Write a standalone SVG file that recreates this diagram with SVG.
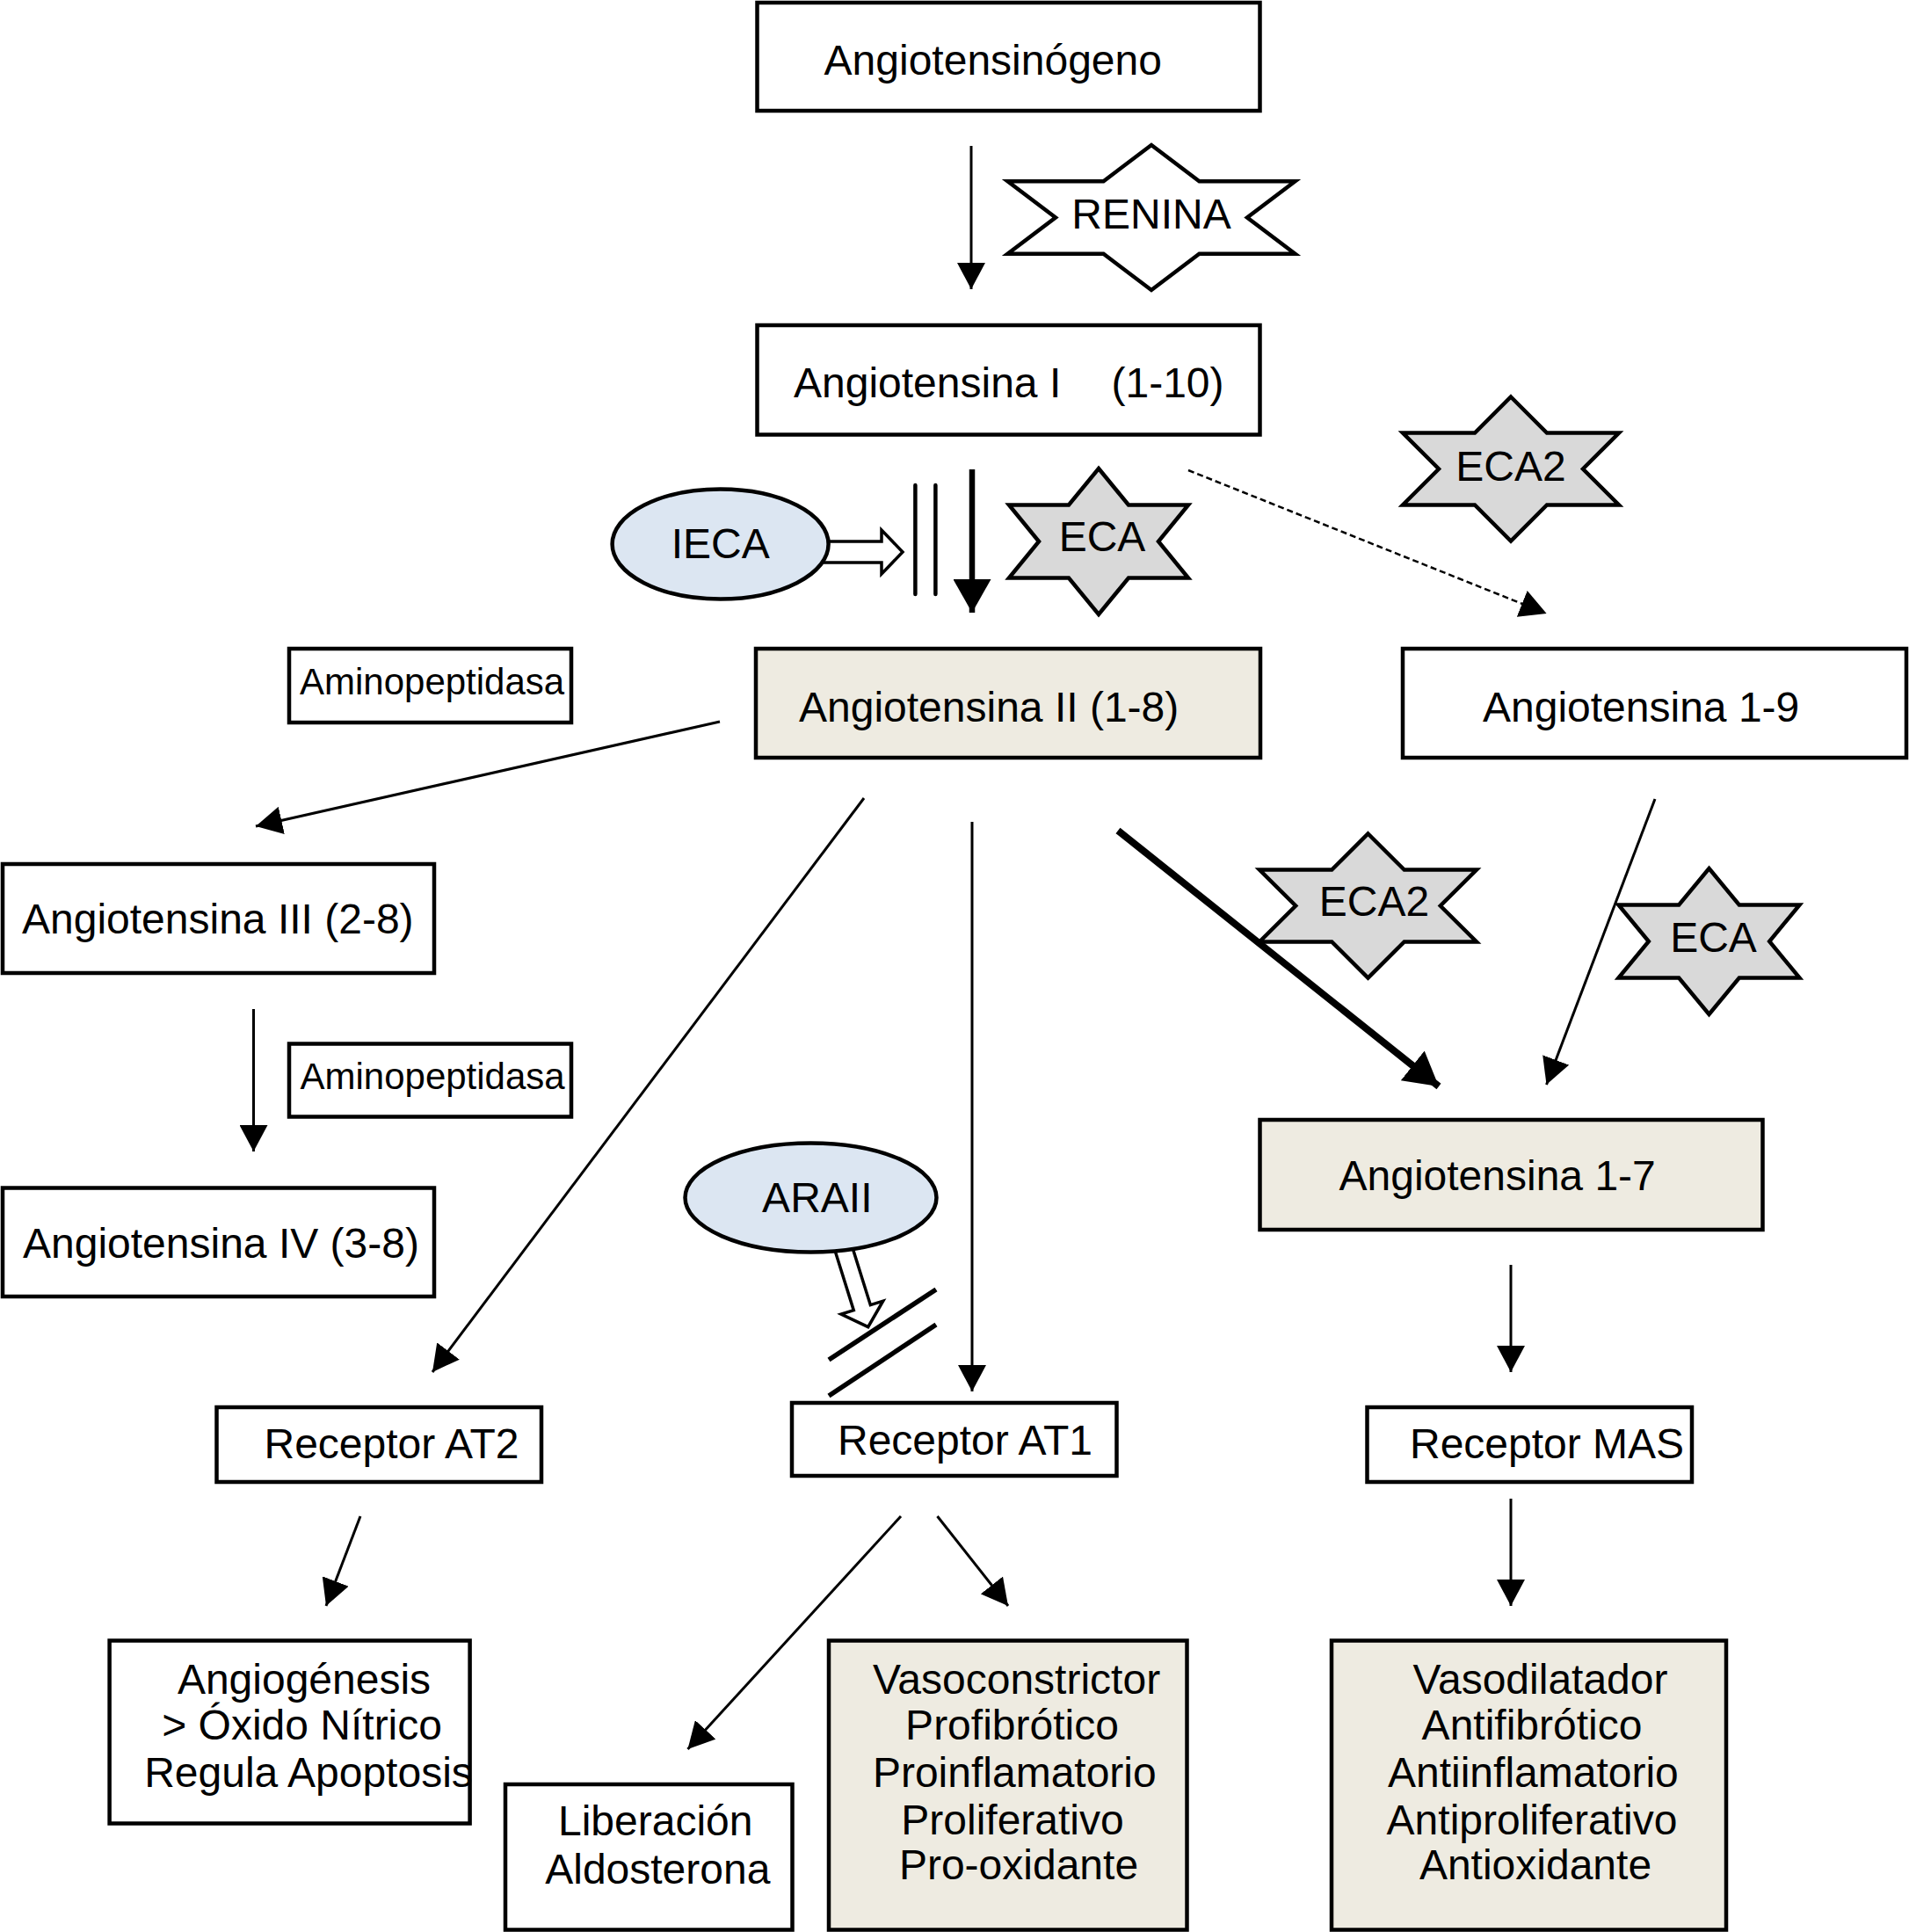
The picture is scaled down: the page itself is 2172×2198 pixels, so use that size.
<svg xmlns="http://www.w3.org/2000/svg" width="2172" height="2198" viewBox="0 0 2172 2198">
<style>
.box{fill:#ffffff;stroke:#000;stroke-width:4.5}
.beige{fill:#EEEBE1}
.star{fill:#D9D9D9;stroke:#000;stroke-width:4.5;stroke-linejoin:miter}
.white{fill:#ffffff}
.ell{fill:#DCE6F2;stroke:#000;stroke-width:4.5}
.t{font-family:"Liberation Sans",Arial,Helvetica,sans-serif;font-size:48px;fill:#000}
.ts{font-family:"Liberation Sans",Arial,Helvetica,sans-serif;font-size:42px;fill:#000}
.m{text-anchor:middle}
.ln{stroke:#000;stroke-width:3;fill:none}
.thick{stroke:#000;stroke-width:6.5;fill:none}
.thick2{stroke:#000;stroke-width:8;fill:none}
.dash{stroke:#000;stroke-width:2.5;fill:none;stroke-dasharray:7 4}
.bar{stroke:#000;stroke-width:4.5;stroke-linecap:round;fill:none}
.bar2{stroke:#000;stroke-width:5.5;fill:none}
.hollow{fill:#fff;stroke:#000;stroke-width:3.5;stroke-linejoin:miter}
</style>
<defs>
<marker id="ah" markerUnits="userSpaceOnUse" viewBox="0 0 30 32" markerWidth="30" markerHeight="32" refX="30" refY="16" orient="auto">
<path d="M0,0 L30,16 L0,32 z" fill="#000"/>
</marker>
<marker id="ahT" markerUnits="userSpaceOnUse" viewBox="0 0 38 43" markerWidth="38" markerHeight="43" refX="38" refY="21.5" orient="auto">
<path d="M0,0 L38,21.5 L0,43 z" fill="#000"/>
</marker>
</defs>
<rect width="2172" height="2198" fill="#ffffff"/>

<g id="n-angiotensinogeno"><rect class="box" x="861.5" y="3" width="572" height="123"/><text class="t" x="937.6" y="85">Angiotensinógeno</text></g>
<g id="n-ang1"><rect class="box" x="861.5" y="370" width="572" height="124.5"/><text class="t" x="903" y="452">Angiotensina I</text><text class="t" x="1264.5" y="452">(1-10)</text></g>
<g id="n-ang2"><rect class="box beige" x="860" y="738" width="574" height="124"/><text class="t" x="909" y="821">Angiotensina II (1-8)</text></g>
<g id="n-ang19"><rect class="box" x="1596" y="738" width="573" height="124"/><text class="t" x="1687" y="820.5">Angiotensina 1-9</text></g>
<g id="n-amino1"><rect class="box" x="329" y="738" width="321" height="84"/><text class="ts" x="341" y="790">Aminopeptidasa</text></g>
<g id="n-amino2"><rect class="box" x="329" y="1187.5" width="321" height="83"/><text class="ts" x="341.5" y="1238.5">Aminopeptidasa</text></g>
<g id="n-ang3"><rect class="box" x="3" y="983" width="491" height="124"/><text class="t" x="25" y="1062">Angiotensina III (2-8)</text></g>
<g id="n-ang4"><rect class="box" x="3" y="1351.5" width="491" height="123.5"/><text class="t" x="26" y="1431">Angiotensina IV (3-8)</text></g>
<g id="n-ang17"><rect class="box beige" x="1433.5" y="1274" width="572" height="125"/><text class="t" x="1523.5" y="1354">Angiotensina 1-7</text></g>
<g id="n-at2"><rect class="box" x="246.5" y="1601" width="369.5" height="85"/><text class="t" x="300.5" y="1659">Receptor AT2</text></g>
<g id="n-at1"><rect class="box" x="901" y="1596" width="369.5" height="83"/><text class="t" x="953" y="1654.5">Receptor AT1</text></g>
<g id="n-mas"><rect class="box" x="1555.5" y="1601" width="369.5" height="85"/><text class="t" x="1604" y="1659">Receptor MAS</text></g>
<g id="n-angiog"><rect class="box" x="124.6" y="1866.5" width="410" height="208"/>
<text class="t m" x="346" y="1926.7">Angiogénesis</text>
<text class="t m" x="343.6" y="1979">&gt; Óxido Nítrico</text>
<text class="t m" x="351" y="2033">Regula Apoptosis</text></g>
<g id="n-liber"><rect class="box" x="575" y="2030" width="326.5" height="165.5"/>
<text class="t m" x="745.7" y="2088">Liberación</text>
<text class="t m" x="748.3" y="2143">Aldosterona</text></g>
<g id="n-vasoc"><rect class="box beige" x="943" y="1866.5" width="407.5" height="329"/>
<text class="t m" x="1156.5" y="1926.7">Vasoconstrictor</text>
<text class="t m" x="1151.5" y="1979">Profibrótico</text>
<text class="t m" x="1154.3" y="2033">Proinflamatorio</text>
<text class="t m" x="1152" y="2086.7">Proliferativo</text>
<text class="t m" x="1159" y="2138.3">Pro-oxidante</text></g>
<g id="n-vasod"><rect class="box beige" x="1515" y="1866.5" width="449" height="329"/>
<text class="t m" x="1752.5" y="1926.7">Vasodilatador</text>
<text class="t m" x="1743" y="1979">Antifibrótico</text>
<text class="t m" x="1744.4" y="2033">Antiinflamatorio</text>
<text class="t m" x="1743" y="2086.7">Antiproliferativo</text>
<text class="t m" x="1747" y="2138.3">Antioxidante</text></g>

<g id="n-renina"><polygon class="star white" points="1310,165 1364.5,206.25 1473.5,206.25 1419,247.5 1473.5,288.75 1364.5,288.75 1310,330 1255.5,288.75 1146.5,288.75 1201,247.5 1146.5,206.25 1255.5,206.25"/><text class="t m" x="1310" y="260">RENINA</text></g>
<g id="n-eca-top"><polygon class="star" points="1250,533 1284,574.5 1352,574.5 1318,616 1352,657.5 1284,657.5 1250,699 1216,657.5 1148,657.5 1182,616 1148,574.5 1216,574.5"/><text class="t m" x="1254" y="627">ECA</text></g>
<g id="n-eca2-top"><polygon class="star" points="1719,451.5 1760,492.5 1842,492.5 1801,533.5 1842,574.5 1760,574.5 1719,615.5 1678,574.5 1596,574.5 1637,533.5 1596,492.5 1678,492.5"/><text class="t m" x="1719" y="546.5">ECA2</text></g>
<g id="n-eca2-mid"><polygon class="star" points="1556.5,948.5 1597.7,989.5 1680,989.5 1638.8,1030.5 1680,1071.5 1597.7,1071.5 1556.5,1112.5 1515.3,1071.5 1433,1071.5 1474.2,1030.5 1433,989.5 1515.3,989.5"/><text class="t m" x="1563.5" y="1042">ECA2</text></g>
<g id="n-eca-mid"><polygon class="star" points="1944.5,988 1978.8,1029.5 2047.5,1029.5 2013.2,1071 2047.5,1112.5 1978.8,1112.5 1944.5,1154 1910.2,1112.5 1841.5,1112.5 1875.8,1071 1841.5,1029.5 1910.2,1029.5"/><text class="t m" x="1949.5" y="1083">ECA</text></g>

<g id="connectors">
<line class="ln" x1="1105" y1="166" x2="1105" y2="329" marker-end="url(#ah)"/>
<line class="thick" x1="1106" y1="534" x2="1106" y2="697" marker-end="url(#ahT)"/>
<line class="bar" x1="1041.4" y1="552" x2="1041.4" y2="676"/>
<line class="bar" x1="1064.4" y1="552" x2="1064.4" y2="676"/>
<polygon class="hollow" points="936,616 1003,616 1003,603 1027,628 1003,653 1003,640 936,640"/>
<line class="dash" x1="1352" y1="535" x2="1759.6" y2="698" marker-end="url(#ah)"/>
<line class="ln" x1="819" y1="821" x2="291" y2="940" marker-end="url(#ah)"/>
<line class="ln" x1="288.5" y1="1148" x2="288.5" y2="1310" marker-end="url(#ah)"/>
<line class="ln" x1="983" y1="908" x2="492" y2="1561" marker-end="url(#ah)"/>
<line class="ln" x1="1106" y1="935" x2="1106" y2="1583" marker-end="url(#ah)"/>
<line class="thick2" x1="1272" y1="945" x2="1637" y2="1236" marker-end="url(#ahT)"/>
<line class="ln" x1="1883" y1="909" x2="1759.5" y2="1234" marker-end="url(#ah)"/>
<line class="ln" x1="1719" y1="1439" x2="1719" y2="1561" marker-end="url(#ah)"/>
<line class="ln" x1="410" y1="1725" x2="371" y2="1827" marker-end="url(#ah)"/>
<line class="ln" x1="1025" y1="1725" x2="782.5" y2="1990" marker-end="url(#ah)"/>
<line class="ln" x1="1066.5" y1="1725" x2="1147" y2="1827" marker-end="url(#ah)"/>
<line class="ln" x1="1719" y1="1705" x2="1719" y2="1827" marker-end="url(#ah)"/>
<polygon class="hollow" transform="translate(959,1418) rotate(-17.4)" points="-10,0 10,0 10,73 25,73 0,96 -25,73 -10,73"/>
<line class="bar2" x1="943" y1="1547" x2="1065" y2="1467"/>
<line class="bar2" x1="943" y1="1588" x2="1065" y2="1507"/>
</g>

<g id="n-ieca"><ellipse class="ell" cx="819.6" cy="619" rx="123" ry="62.5"/><text class="t m" x="819.7" y="634.5">IECA</text></g>
<g id="n-araii"><ellipse class="ell" cx="922.5" cy="1362.5" rx="143" ry="62"/><text class="t m" x="929.8" y="1379.3">ARAII</text></g>
</svg>
